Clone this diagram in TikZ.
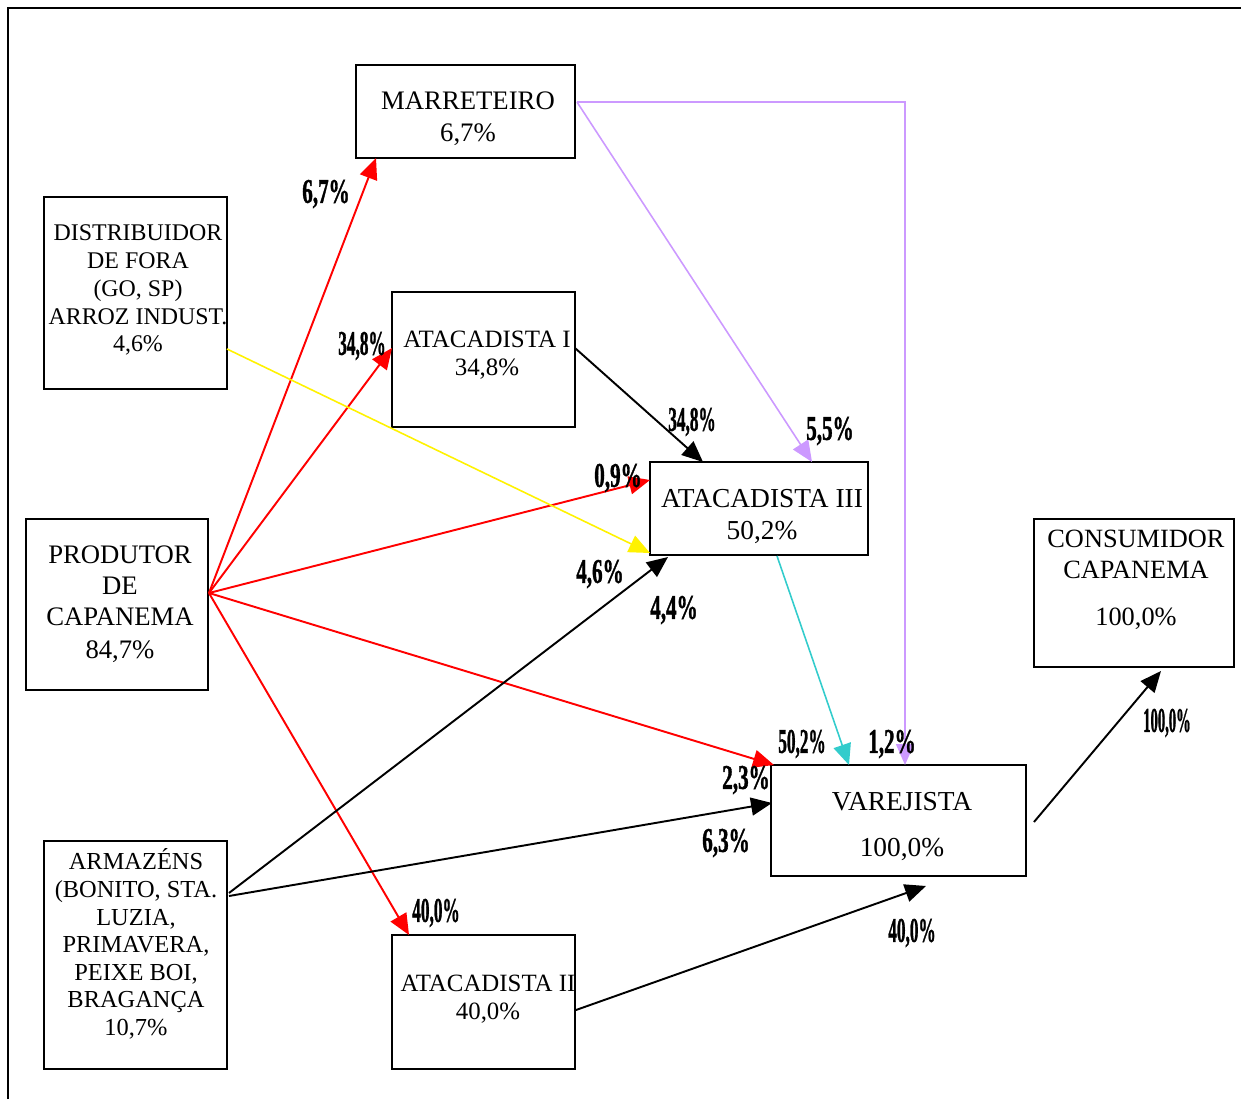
\documentclass[tikz,border=0pt]{standalone}
\usepackage{fontspec}
\setmainfont{Liberation Serif}
\newfontfamily\lblfont[FakeBold=1.5]{Liberation Serif Bold}
\usetikzlibrary{arrows.meta,calc}
\definecolor{lav}{RGB}{204,153,255}
\definecolor{cyn}{RGB}{51,204,204}
\newcommand\pct[1]{\resizebox{0.95cm}{0.46cm}{\lblfont #1}}
\begin{document}
\begin{tikzpicture}[x=0.02cm,y=-0.02cm,
 box/.style={draw,line width=1.1pt,inner sep=0,outer sep=0},
 big/.style={align=center,inner sep=0},
 small/.style={align=center,inner sep=0},
 lab/.style={inner sep=0},
 arr/.style={line width=1.1pt,-{Triangle[length=0.42cm,width=0.36cm]}},
 thinarr/.style={line width=0.9pt,-{Triangle[length=0.42cm,width=0.36cm]}},
]
\useasboundingbox (0,0) rectangle (1241,1099);
\draw[line width=1.4pt] (8,1099) -- (8,8) -- (1241,8);

% boxes
\node[box,minimum width=4.38cm,minimum height=1.86cm] (marr) at (465.5,111.5) {};
\node[box,minimum width=3.66cm,minimum height=3.84cm] (dist) at (135.5,293) {};
\node[box,minimum width=3.66cm,minimum height=2.70cm] (ata1) at (483.5,359.5) {};
\node[box,minimum width=4.36cm,minimum height=1.86cm] (ata3) at (759,508.5) {};
\node[box,minimum width=3.64cm,minimum height=3.42cm] (prod) at (117,604.5) {};
\node[box,minimum width=4.00cm,minimum height=2.96cm] (cons) at (1134,593) {};
\node[box,minimum width=5.10cm,minimum height=2.22cm] (vare) at (898.5,820.5) {};
\node[box,minimum width=3.66cm,minimum height=4.56cm] (arm) at (135.5,955) {};
\node[box,minimum width=3.66cm,minimum height=2.68cm] (ata2) at (483.5,1002) {};

% texts
\node[big,font=\fontsize{15.2}{18.1}\selectfont] (marrT) at (468,119) {MARRETEIRO\\6,7\%};
\node[small,font=\fontsize{13.6}{15.9}\selectfont] (distT) at (138,290) {DISTRIBUIDOR\\DE FORA\\(GO, SP)\\ARROZ INDUST.\\4,6\%};
\node[small,font=\fontsize{14.2}{15.9}\selectfont] (ata1T) at (487,355) {ATACADISTA I\\34,8\%};
\node[big,font=\fontsize{15.6}{18.7}\selectfont] (ata3T) at (762,516.5) {ATACADISTA III\\50,2\%};
\node[big,font=\fontsize{15.2}{17.6}\selectfont] (prodT) at (120,604) {PRODUTOR\\DE\\CAPANEMA\\[1pt]84,7\%};
\node[big,font=\fontsize{15}{17.6}\selectfont] (consT) at (1136,580) {CONSUMIDOR\\CAPANEMA\\[9pt]100,0\%};
\node[big,font=\fontsize{15.6}{17.6}\selectfont] (vareT) at (902,826.5) {VAREJISTA\\[9pt]100,0\%};
\node[small,font=\fontsize{13.9}{15.7}\selectfont] (armT) at (136,944) {ARMAZÉNS\\(BONITO, STA.\\LUZIA,\\PRIMAVERA,\\PEIXE BOI,\\BRAGANÇA\\10,7\%};
\node[small,font=\fontsize{14.15}{15.9}\selectfont] (ata2T) at (488,999) {ATACADISTA II\\40,0\%};

% connector end points
\coordinate (pO) at ($(prod.east)+(1,-11.5)$);
\coordinate (mO) at ($(marr.east)+(2,-9.5)$);
\coordinate (aO1) at ($(arm.east)+(2,-62)$);
\coordinate (aO2) at ($(arm.east)+(2,-59)$);
\coordinate (vIn) at ($(vare.south)+(27.5,10)$);
\coordinate (vO) at ($(vare.east)+(8,1.5)$);
\coordinate (cIn) at ($(cons.south)+(27,4)$);

% red
\draw[arr,red] (pO) -- ($(marr.south west)+(20,0)$);
\draw[arr,red] (pO) -- ($(ata1.west)+(0,-11.5)$);
\draw[arr,red] (pO) -- ($(ata3.north west)+(0,18)$);
\draw[arr,red] (pO) -- ($(vare.north west)+(3,0)$);
\draw[arr,red] (pO) -- ($(ata2.north west)+(17,0)$);
% yellow
\draw[thinarr,yellow] ($(dist.south east)+(0,-40)$) -- ($(ata3.south west)+(0,-2)$);
% black
\draw[arr] ($(ata1.east)+(0,-11.5)$) -- ($(ata3.north west)+(53,0)$);
\draw[arr] (aO1) -- ($(ata3.south west)+(18,2)$);
\draw[arr] (aO2) -- ($(vare.west)+(1,-17.5)$);
\draw[arr] ($(ata2.east)+(1,8)$) -- (vIn);
\draw[arr] (vO) -- (cIn);
% lavender
\draw[thinarr,lav] (mO) -- ($(ata3.north west)+(162,0)$);
\draw[thinarr,lav] (mO) -| ($(vare.north)+(6.5,0)$);
% cyan
\draw[thinarr,cyn] ($(ata3.south)+(18,1)$) -- ($(vare.north west)+(78,0)$);

% percentage labels
\node[lab] (l1) at (326,194) {\pct{6,7\%}};
\node[lab] (l2) at (362,346) {\pct{34,8\%}};
\node[lab] (l3) at (692,422) {\pct{34,8\%}};
\node[lab] (l4) at (830,431) {\pct{5,5\%}};
\node[lab] (l5) at (618,478) {\pct{0,9\%}};
\node[lab] (l6) at (600,574) {\pct{4,6\%}};
\node[lab] (l7) at (674,610) {\pct{4,4\%}};
\node[lab] (l8) at (802,744) {\pct{50,2\%}};
\node[lab] (l9) at (892,744) {\pct{1,2\%}};
\node[lab] (l10) at (746,780) {\pct{2,3\%}};
\node[lab] (l11) at (726,843) {\pct{6,3\%}};
\node[lab] (l12) at (436,913) {\pct{40,0\%}};
\node[lab] (l13) at (912,933) {\pct{40,0\%}};
\node[lab] (l14) at (1167,723) {\pct{100,0\%}};
\end{tikzpicture}
\end{document}
